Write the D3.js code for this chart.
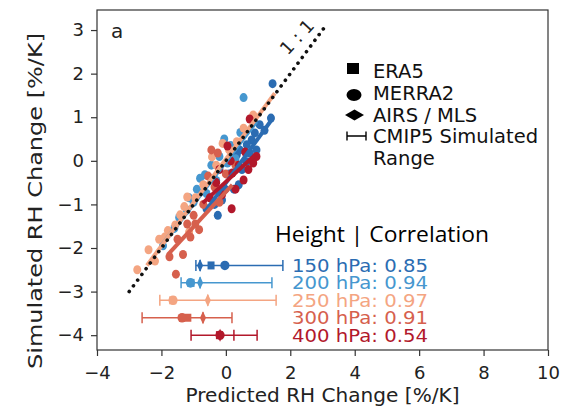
<!DOCTYPE html>
<html>
<head>
<meta charset="utf-8">
<script src="https://cdn.jsdelivr.net/npm/d3@7"></script>
<style>
  body { margin: 0; background: #fff; }
  text { font-family: "DejaVu Sans", sans-serif; fill: #222; }
</style>
</head>
<body>
<div id="chart"></div>
<script>
// pressure levels, correlations and colours
const levels = ["150 hPa", "200 hPa", "250 hPa", "300 hPa", "400 hPa"];
const correlations = ["0.85", "0.94", "0.97", "0.91", "0.54"];
const colors = ["#2b6cb2", "#4697cf", "#f4a582", "#d6604d", "#b2182b"];

// scatter points [predicted, simulated] per level
const pts150 = [[1.45,1.77],[1.4,0.98],[1.05,0.83],[0.9,0.64],[0.8,0.48],[0.65,0.37],[0.43,0.25],[0.34,0.14],
  [0.74,0.18],[0.65,-0.02],[1.2,0.7],[0.4,-0.55],[0.25,-0.65],[-0.02,-0.65],[-0.12,-0.9],[-0.35,-1.0],
  [-0.25,-1.25],[0.1,-0.3],[-0.6,-1.1],[0.95,0.25],[0.5,-0.2]];
const pts200 = [[0.55,1.45],[-0.65,-0.32],[-1.14,-0.85],[-0.45,-0.1],[-0.9,-0.65],[-1.21,-1.13],[-1.6,-1.55],
  [-1.95,-1.95],[-0.2,0.1],[0.15,0.35],[0.05,-0.05],[-0.6,-0.75],[-1.0,-0.95],[0.45,0.65],[-0.3,-0.45],
  [0.3,0.05],[-1.45,-1.3],[-0.05,0.5],[-0.8,-0.4]];
const pts250 = [[-2.75,-2.5],[-2.4,-2.04],[-2.07,-1.8],[-1.8,-1.6],[-1.42,-1.24],[-1.57,-1.47],[-1.29,-1.05],
  [-1.14,-1.63],[-1.2,-0.83],[-0.95,-0.85],[-0.7,-0.55],[-0.43,0.09],[-0.3,-0.1],[0.1,0.25],[0.34,0.44],
  [0.55,0.75],[0.85,1.05],[-2.2,-2.3],[-1.9,-1.75],[-0.1,0.4]];
const pts300 = [[-0.83,-1.58],[-1.33,-2.15],[-1.55,-2.6],[-1.5,-1.8],[-1.0,-1.25],[-0.7,-1.0],[-0.35,-0.6],
  [-0.55,-0.35],[0.0,-0.3],[-1.2,-1.45],[-1.75,-2.2],[0.3,-0.1],[-0.95,-1.45],[-0.2,-0.95],[-0.25,0.18],
  [-1.1,-1.75],[-0.45,0.25]];
const pts400 = [[0.74,0.96],[0.05,0.34],[0.2,-0.28],[0.55,-0.44],[0.18,-1.1],[-0.12,-0.78],[0.4,-0.1],
  [0.7,-0.2],[0.95,0.1],[-0.3,-0.5],[-0.5,-0.85],[0.3,-0.65],[0.6,0.2],[-0.2,-0.2],[0.85,-0.05],[0.15,0.0]];
const allPoints = [pts150, pts200, pts250, pts300, pts400];

// fitted lines per level [x0, y0, x1, y1]
const fits = [[-0.6,-1.12,1.45,0.97],[-2.0,-1.95,0.95,0.9],[-2.45,-2.4,1.52,1.55],
  [-1.8,-2.15,0.2,-0.55],[-0.72,-0.97,0.9,0.13]];

// 1:1 reference line extent
const oneToOne = [-3.0, 3.1];

// observational estimates and CMIP5 range per level
const rowY    = [-2.4, -2.8, -3.2, -3.6, -4.0];
const era5    = [-0.46, -1.08, -1.65, -1.18, -0.2];
const merra2  = [-0.03, -1.1, -1.64, -1.36, -0.18];
const airs    = [-0.8, -0.8, -0.56, -0.71, -0.18];
const cmipLo  = [-0.93, -1.39, -2.05, -2.6, -1.08];
const cmipHi  = [1.77, 1.43, 1.56, 0.19, 0.97];
const cmipMid = [-0.8, -0.8, -0.56, -0.71, 0.25];

const xTicks = [-4, -2, 0, 2, 4, 6, 8, 10];
const yTicks = [-4, -3, -2, -1, 0, 1, 2, 3];
const legendItems = ["ERA5", "MERRA2", "AIRS / MLS", "CMIP5 Simulated"];

const width = 574, height = 414;
const margin = {top: 10, right: 26, bottom: 64, left: 97};

const svg = d3.select("#chart").append("svg")
  .attr("width", width)
  .attr("height", height)
  .style("background", "#fff");

const x = d3.scaleLinear().domain([-4, 10]).range([margin.left, width - margin.right]);
const y = d3.scaleLinear().domain([-4.34, 3.46]).range([height - margin.bottom, margin.top]);

// axes
const xAxis = svg.append("g")
  .attr("transform", `translate(0,${height - margin.bottom})`)
  .call(d3.axisBottom(x).tickValues(xTicks).tickSize(6).tickPadding(10).tickSizeOuter(0));
const yAxis = svg.append("g")
  .attr("transform", `translate(${margin.left},0)`)
  .call(d3.axisLeft(y).tickValues(yTicks).tickSize(6).tickPadding(7).tickSizeOuter(0));
[xAxis, yAxis].forEach(g => {
  g.select(".domain").remove();
  g.selectAll("line").attr("stroke", "#333").attr("stroke-width", 1.2);
  g.selectAll("text").style("font-family", "DejaVu Sans").style("font-size", "18px").attr("fill", "#222");
});

// frame
svg.append("rect")
  .attr("x", margin.left).attr("y", margin.top)
  .attr("width", width - margin.left - margin.right)
  .attr("height", height - margin.top - margin.bottom)
  .attr("fill", "none").attr("stroke", "#333").attr("stroke-width", 1.2);

// scatter points
allPoints.forEach((pts, i) => {
  svg.append("g").selectAll("ellipse")
    .data(pts)
    .join("ellipse")
    .attr("cx", d => x(d[0]))
    .attr("cy", d => y(d[1]))
    .attr("rx", 4)
    .attr("ry", 4.5)
    .attr("fill", colors[i]);
});

// fitted lines
svg.append("g").selectAll("line")
  .data(fits)
  .join("line")
  .attr("x1", d => x(d[0])).attr("y1", d => y(d[1]))
  .attr("x2", d => x(d[2])).attr("y2", d => y(d[3]))
  .attr("stroke", (d, i) => colors[i])
  .attr("stroke-width", 4);

// 1:1 dotted line
svg.append("line")
  .attr("x1", x(oneToOne[0])).attr("y1", y(oneToOne[0]))
  .attr("x2", x(oneToOne[1])).attr("y2", y(oneToOne[1]))
  .attr("stroke", "#111")
  .attr("stroke-width", 3.6)
  .attr("stroke-linecap", "round")
  .attr("stroke-dasharray", "0.1 7");

svg.append("text")
  .attr("transform", "translate(297,37) rotate(-47)")
  .attr("text-anchor", "middle")
  .attr("dy", "0.35em")
  .style("font-size", "18px")
  .text("1 : 1");

// CMIP5 ranges and observational markers
const thinDiamond = (cx, cy) => `M${cx},${cy - 6.5}L${cx + 3},${cy}L${cx},${cy + 6.5}L${cx - 3},${cy}Z`;
levels.forEach((lev, i) => {
  const g = svg.append("g").attr("fill", colors[i]).attr("stroke", colors[i]);
  const cy = y(rowY[i]);
  g.append("line")
    .attr("x1", x(cmipLo[i])).attr("x2", x(cmipHi[i]))
    .attr("y1", cy).attr("y2", cy).attr("stroke-width", 1.5);
  [cmipLo[i], cmipHi[i], cmipMid[i]].forEach(v => {
    g.append("line")
      .attr("x1", x(v)).attr("x2", x(v))
      .attr("y1", cy - 5.5).attr("y2", cy + 5.5).attr("stroke-width", 1.5);
  });
  g.append("rect")
    .attr("x", x(era5[i]) - 3.5).attr("y", cy - 4)
    .attr("width", 7).attr("height", 8).attr("stroke", "none");
  g.append("ellipse")
    .attr("cx", x(merra2[i])).attr("cy", cy)
    .attr("rx", 4.6).attr("ry", 4.8).attr("stroke", "none");
  g.append("path")
    .attr("d", thinDiamond(x(airs[i]), cy)).attr("stroke", "none");

  svg.append("text")
    .attr("x", 292)
    .attr("y", cy + 6.5)
    .attr("textLength", 136)
    .attr("lengthAdjust", "spacingAndGlyphs")
    .style("font-size", "17px")
    .style("fill", colors[i])
    .text(`${lev}: ${correlations[i]}`);
});

svg.append("text")
  .attr("x", 275)
  .attr("y", 242)
  .attr("textLength", 214)
  .attr("lengthAdjust", "spacingAndGlyphs")
  .style("font-family", "'Open Sans', sans-serif")
  .style("font-size", "21px")
  .style("font-weight", "400")
  .style("fill", "#000")
  .text("Height | Correlation");

// legend
const legend = svg.append("g").attr("fill", "#000");
legend.append("rect").attr("x", 347).attr("y", 63).attr("width", 12).attr("height", 11);
legend.append("ellipse").attr("cx", 354).attr("cy", 95).attr("rx", 7.5).attr("ry", 6);
legend.append("path").attr("d", "M345,115L354.5,109.5L364,115L354.5,120.5Z");
legend.append("path")
  .attr("d", "M347,136H366M347,131.5V140.5M366,131.5V140.5")
  .attr("fill", "none").attr("stroke", "#000").attr("stroke-width", 1.4);
const legendBase = [78, 100, 122, 143];
legendItems.forEach((t, i) => {
  legend.append("text")
    .attr("x", 373).attr("y", legendBase[i])
    .style("font-size", "19.5px")
    .style("fill", "#111")
    .text(t);
});
legend.append("text")
  .attr("x", 373).attr("y", 165)
  .style("font-size", "19.5px")
  .style("fill", "#111")
  .text("Range");

// panel letter
svg.append("text")
  .attr("x", 111).attr("y", 38)
  .style("font-size", "20px")
  .text("a");

// axis labels
svg.append("text")
  .attr("x", (margin.left + width - margin.right) / 2)
  .attr("y", 402)
  .attr("text-anchor", "middle")
  .attr("textLength", 274)
  .attr("lengthAdjust", "spacingAndGlyphs")
  .style("font-size", "19px")
  .text("Predicted RH Change [%/K]");

svg.append("text")
  .attr("transform", "translate(42,201) rotate(-90)")
  .attr("text-anchor", "middle")
  .attr("textLength", 336)
  .attr("lengthAdjust", "spacingAndGlyphs")
  .style("font-size", "19px")
  .text("Simulated RH Change [%/K]");
</script>
</body>
</html>
